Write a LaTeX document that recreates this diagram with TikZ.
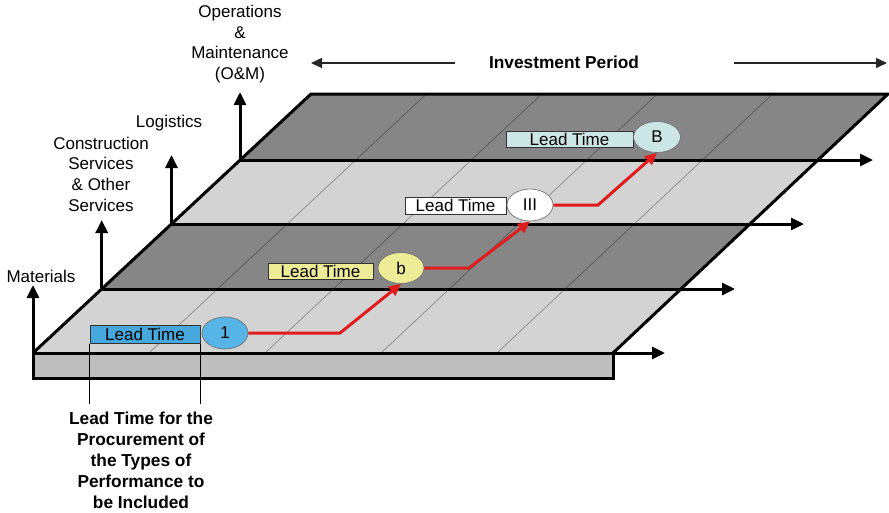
\documentclass[tikz,border=0pt]{standalone}
\usepackage{fontspec}
\setmainfont{Liberation Sans}
\usetikzlibrary{arrows.meta,shapes.geometric}

\definecolor{stripdark}{HTML}{868686}
\definecolor{striplight}{HTML}{D2D3D2}
\definecolor{slabgray}{HTML}{BEBEBE}
\definecolor{leadred}{HTML}{E01B1B}
\definecolor{boxblue}{HTML}{46A8DC}
\definecolor{ovalblue}{HTML}{56B5E6}
\definecolor{boxyellow}{HTML}{EFEC98}
\definecolor{boxcyan}{HTML}{CCE6E6}

\begin{document}
\begin{tikzpicture}[x=1pt,y=-1pt,
  axis/.style={line width=3pt,-{Triangle[length=13pt,width=12pt]}},
  edgeline/.style={line width=3pt,line join=miter},
  gridline/.style={black,opacity=.35,line width=.7pt},
  periodarrow/.style={line width=1.4pt,black!85,-{Triangle[length=11pt,width=10pt]}},
  leadbox/.style={draw=black!80,line width=1pt,minimum height=17pt,inner sep=0pt,
    font=\fontsize{17}{20}\selectfont},
  phase/.style={ellipse,draw=black!55,line width=.7pt,minimum width=46pt,
    minimum height=31pt,inner sep=0pt,font=\fontsize{17}{20}\selectfont},
  leadpath/.style={leadred,line width=3pt,-{Triangle[length=12pt,width=11pt]}},
  axislabel/.style={align=center,font=\fontsize{17}{20.7}\selectfont},
  captiontext/.style={align=center,font=\bfseries\fontsize{17.3}{21}\selectfont},
]
\useasboundingbox (0,0) rectangle (889,512);

% corners of the sloped plane and its strip boundaries
\coordinate (L0) at (33,353);    \coordinate (R0) at (613,353);
\coordinate (L1) at (101.7,289); \coordinate (R1) at (681,289);
\coordinate (L2) at (171.5,224); \coordinate (R2) at (750,224);
\coordinate (L3) at (240,160);   \coordinate (R3) at (818,160);
\coordinate (L4) at (311,94);    \coordinate (R4) at (888,94);

% strips
\fill[striplight] (L0) -- (R0) -- (R1) -- (L1) -- cycle;
\fill[stripdark]  (L1) -- (R1) -- (R2) -- (L2) -- cycle;
\fill[striplight] (L2) -- (R2) -- (R3) -- (L3) -- cycle;
\fill[stripdark]  (L3) -- (R3) -- (R4) -- (L4) -- cycle;

% time columns
\foreach \k in {1,...,4}
  \draw[gridline] ({33+116*\k},353) -- ({311+115.4*\k},94);

% base slab
\coordinate (S) at (613,378);
\draw[edgeline,fill=slabgray] (L0) rectangle (S);

% time axes of the strips
\coordinate (T0) at (665,353);
\coordinate (T1) at (735,289);
\coordinate (T2) at (804,224);
\coordinate (T3) at (873,160);
\draw[axis] (L0) -- (T0);
\draw[axis] (L1) -- (T1);
\draw[axis] (L2) -- (T2);
\draw[axis] (L3) -- (T3);

% outline of the plane
\draw[edgeline] (L0) -- (L4) -- (R4) -- (R0);

% vertical axes
\coordinate (V0) at (33,285);
\coordinate (V1) at (101.7,220);
\coordinate (V2) at (171.5,155);
\coordinate (V3) at (240,92);
\draw[axis] (L0) -- (V0);
\draw[axis] (L1) -- (V1);
\draw[axis] (L2) -- (V2);
\draw[axis] (L3) -- (V3);

% axis labels
\node[axislabel] (mat) at (41,276) {Materials};
\node[axislabel] (con) at (101,174) {Construction\\Services\\\& Other\\Services};
\node[axislabel] (log) at (169,123) {Logistics};
\node[axislabel] (om)  at (240,44) {Operations\\\&\\Maintenance\\(O\&M)};

% investment period
\node[font=\bfseries\fontsize{17.3}{21}\selectfont] (ip) at (564,62) {Investment Period};
\coordinate (IPa) at (455,63); \coordinate (IPat) at (311,63);
\coordinate (IPb) at (734,63); \coordinate (IPbt) at (887,63);
\draw[periodarrow] (IPa) -- (IPat);
\draw[periodarrow] (IPb) -- (IPbt);

% lead time boxes and phases
\node[leadbox,fill=boxblue,minimum width=110pt,minimum height=18pt] (lt1) at (145,334) {Lead Time};
\node[phase,fill=ovalblue,minimum height=32pt] (p1) at (225,333) {1};

\node[leadbox,fill=boxyellow,minimum width=105pt,minimum height=16pt] (lt2) at (320.5,271) {Lead Time};
\node[phase,fill=boxyellow] (p2) at (401,268) {b};

\node[leadbox,fill=white,minimum width=101pt] (lt3) at (455.5,205.5) {Lead Time};
\node[phase,fill=white,minimum height=32pt] (p3) at (530,205) {III};

\node[leadbox,fill=boxcyan,minimum width=127pt,minimum height=16pt] (lt4) at (569.5,139) {Lead Time};
\node[phase,fill=boxcyan,minimum width=47pt] (p4) at (657,137) {B};

% critical path between phases
\coordinate (b1) at (340,333);
\coordinate (b2) at (469,268);
\coordinate (b3) at (598,205);
\draw[leadpath] (p1.east) -- (b1) -- (p2.south);
\draw[leadpath] (p2.east) -- (b2) -- (p3.south);
\draw[leadpath] (p3.east) -- (b3) -- (p4.south);

% explanation of the lead time
\node[captiontext] (cap) at (141,460) {Lead Time for the\\Procurement of\\the Types of\\Performance to\\be Included};
\draw[line width=1.1pt] (lt1.south west) -- ++(0,60);
\draw[line width=1.1pt] (lt1.south east) -- ++(0,60);
\end{tikzpicture}
\end{document}
